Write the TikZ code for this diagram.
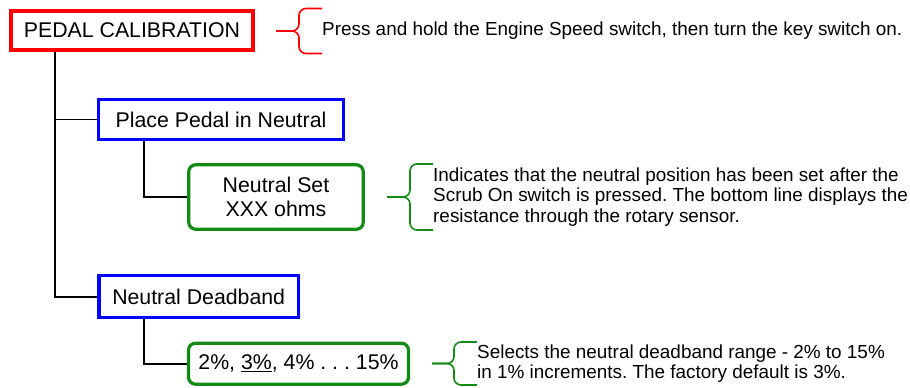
\documentclass[tikz,border=0pt]{standalone}
\usepackage{fontspec}
\setmainfont{Liberation Sans}
\usetikzlibrary{positioning}
\definecolor{pcred}{HTML}{FF0000}
\definecolor{pcblue}{HTML}{0000FF}
\definecolor{pcgreen}{HTML}{138A13}
\frenchspacing

\begin{document}
\begin{tikzpicture}[
  x=1pt, y=-1pt,
  box/.style={draw, line width=3.2pt, inner sep=0pt, align=center,
    font=\fontsize{21.3}{24}\selectfont},
  menu/.style={box, draw=pcblue},
  screen/.style={box, draw=pcgreen, rounded corners=7pt},
  note/.style={anchor=west, inner sep=0pt, align=left,
    font=\fontsize{18.9}{20.7}\selectfont},
  tree/.style={line width=1.6pt, black},
  brace/.style={line width=1.6pt, rounded corners=7pt}
]
  \useasboundingbox (0,0) rectangle (910,388);

  % Menu tree
  \node[box, draw=pcred, line width=3.6pt, minimum width=242pt,
    minimum height=39.5pt] (pedal) at (132,30.5) {PEDAL CALIBRATION};
  \node[menu, minimum width=244.5pt, minimum height=40pt] (place)
    at (221,119.4) {Place Pedal in Neutral};
  \node[screen, minimum width=174.5pt, minimum height=64.5pt] (set)
    at (276,197) {Neutral Set\\XXX ohms};
  \node[menu, minimum width=199.5pt, minimum height=42pt] (deadband)
    at (198.7,296.7) {Neutral Deadband};
  \node[screen, minimum width=220pt, minimum height=41pt] (range)
    at (298.5,363.7) {2\%, \underline{3\%}, 4\% . . . 15\%};

  % Tree lines
  \coordinate (trunk) at (55,0);
  \coordinate (twig) at (144,0);
  \draw[tree] (trunk |- pedal.south) |- (deadband.west);
  \draw[tree] (trunk |- place.west) -- (place.west);
  \draw[tree] (twig |- place.south) |- (set.west);
  \draw[tree] (twig |- deadband.south) |- (range.west);

  % Notes
  \node[note] (pressnote) at (322,31)
    {Press and hold the Engine Speed switch, then turn the key switch on.};
  \node[note] (setnote) at (433,197)
    {Indicates that the neutral position has been set after the\\
     Scrub On switch is pressed. The bottom line displays the\\
     resistance through the rotary sensor.};
  \node[note] (rangenote) at (477,363.5)
    {Selects the neutral deadband range - 2\% to 15\%\\
     in 1\% increments. The factory default is 3\%.};

  % Braces
  \draw[brace, pcred] (pressnote.west) ++(-46,0) coordinate (presstip)
    -- ++(23,0) |- ++(23,-22.5);
  \draw[brace, pcred] (presstip) -- ++(23,0) |- ++(23,22.5);
  \draw[brace, pcgreen] (setnote.west) ++(-46,0) coordinate (settip)
    -- ++(23,0) |- ++(23,-33);
  \draw[brace, pcgreen] (settip) -- ++(23,0) |- ++(23,33);
  \draw[brace, pcgreen] (rangenote.west) ++(-45,0) coordinate (rangetip)
    -- ++(22,0) |- ++(23,-21.5);
  \draw[brace, pcgreen] (rangetip) -- ++(22,0) |- ++(23,21.5);

\end{tikzpicture}
\end{document}
